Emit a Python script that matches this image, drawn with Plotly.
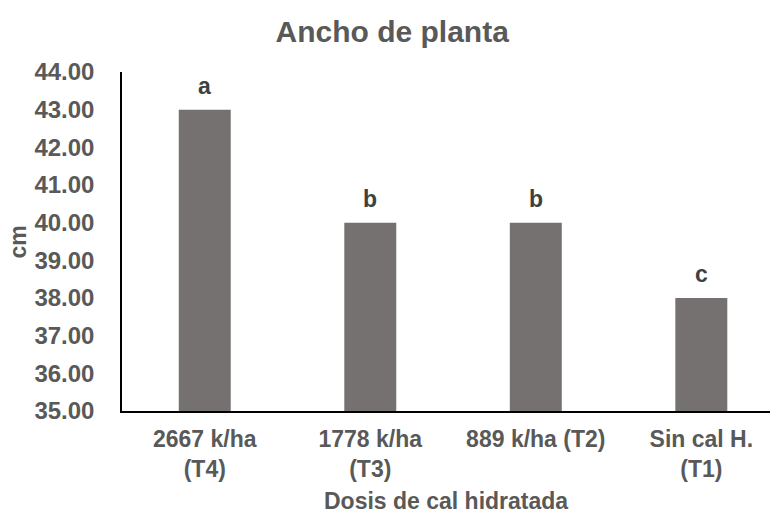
import plotly.graph_objects as go

# Ancho de planta por dosis de cal hidratada
categorias = ["2667 k/ha<br>(T4)", "1778 k/ha<br>(T3)", "889 k/ha (T2)", "Sin cal H.<br>(T1)"]
ancho_cm = [43.0, 40.0, 40.0, 38.0]
letras = ["a", "b", "b", "c"]
ticks_y = [35, 36, 37, 38, 39, 40, 41, 42, 43, 44]

GRIS_TEXTO = "#595959"
GRIS_BARRA = "#767171"
FUENTE = "Liberation Sans, Arial, sans-serif"

fig = go.Figure()
fig.add_trace(go.Bar(
    x=list(range(len(categorias))),
    y=ancho_cm,
    width=0.314,
    marker=dict(color=GRIS_BARRA, line=dict(width=0)),
    hoverinfo="skip",
))

# letras de significancia sobre cada barra
for i, (v, l) in enumerate(zip(ancho_cm, letras)):
    fig.add_annotation(
        x=i, y=v, text=f"<b>{l}</b>", showarrow=False,
        yanchor="bottom", yshift=9,
        font=dict(family=FUENTE, size=23, color="#404040"),
    )

fig.add_annotation(
    text="<b>cm</b>", xref="paper", yref="paper", x=-0.1605, y=0.5,
    textangle=-90, showarrow=False, xanchor="center", yanchor="middle",
    font=dict(family=FUENTE, size=23, color=GRIS_TEXTO),
)
fig.add_annotation(
    text="<b>Dosis de cal hidratada</b>", xref="paper", yref="paper",
    x=0.5, y=-0.266, showarrow=False, xanchor="center", yanchor="middle",
    font=dict(family=FUENTE, size=23, color=GRIS_TEXTO),
)


def negrita(t):
    return "<br>".join(f"<b>{p}</b>" for p in t.split("<br>"))


fig.update_layout(
    width=775, height=515,
    margin=dict(l=122, r=5, t=72, b=104),
    paper_bgcolor="white", plot_bgcolor="white",
    showlegend=False,
    title=dict(
        text="<b>Ancho de planta</b>", x=0.506, xref="container", xanchor="center",
        y=1 - 31 / 515, yref="container", yanchor="middle",
        font=dict(family=FUENTE, size=30, color=GRIS_TEXTO),
    ),
    xaxis=dict(
        range=[-0.5, 3.415],
        tickmode="array", tickvals=list(range(len(categorias))),
        ticktext=[negrita(c) for c in categorias],
        showline=True, linecolor="black", linewidth=1.5,
        showgrid=False, zeroline=False, ticks="", ticklabelstandoff=7,
        tickfont=dict(family=FUENTE, size=23, color=GRIS_TEXTO),
    ),
    yaxis=dict(
        range=[35, 44],
        tickmode="array", tickvals=ticks_y, ticktext=[f"<b>{t:.2f}</b>" for t in ticks_y],
        showline=True, linecolor="black", linewidth=1.5,
        showgrid=False, zeroline=False, ticks="", ticklabelstandoff=21,
        tickfont=dict(family=FUENTE, size=24, color=GRIS_TEXTO),
    ),
)

fig.write_html("out.html")
